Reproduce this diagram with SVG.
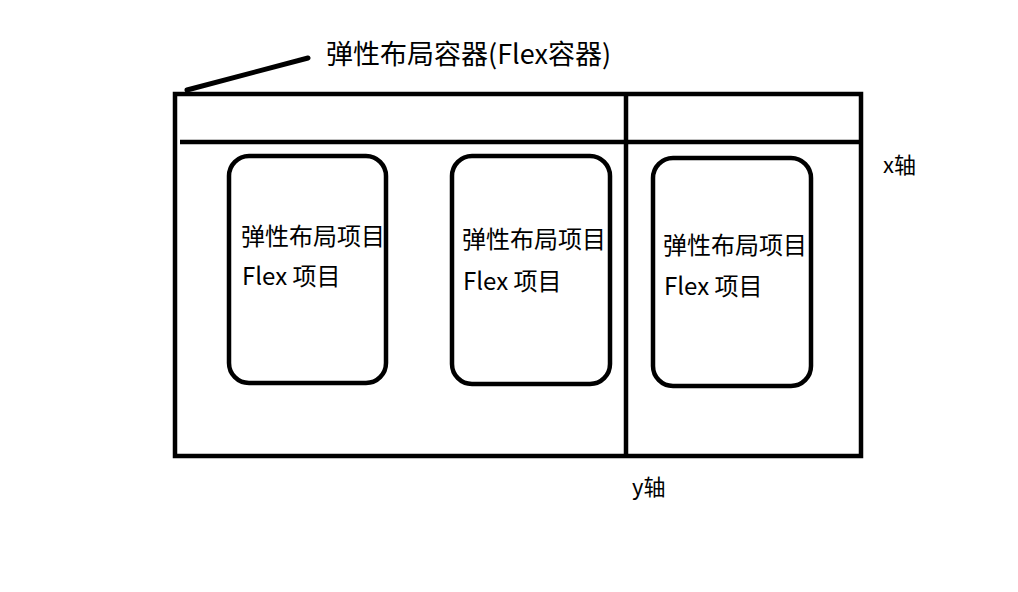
<svg xmlns="http://www.w3.org/2000/svg" width="1018" height="592" viewBox="0 0 1018 592">
<style>
.t{font-family:"Noto Sans CJK SC","Liberation Sans",sans-serif;fill:#000}
.item{fill:none;stroke:#000;stroke-width:4.5}
.ln{stroke:#000;stroke-width:4.5;fill:none}
</style>
<rect width="1018" height="592" fill="#fff"/>
<g id="container">
<rect x="175" y="94" width="686" height="362" class="ln"/>
<text class="t" x="326" y="64" font-size="27">弹性布局容器(Flex容器)</text>
</g>
<g id="connectors">
<line x1="180" y1="142" x2="859" y2="142" class="ln"/>
<line x1="626" y1="94" x2="626" y2="456" class="ln"/>
<line x1="187" y1="90" x2="308" y2="58" stroke="#000" stroke-width="5" stroke-linecap="round"/>
</g>
<g id="item1">
<rect x="229" y="156" width="157" height="227" rx="20" class="item"/>
<text class="t" x="241" y="245" font-size="24">弹性布局项目</text>
<text class="t" x="242" y="285" font-size="24">Flex 项目</text>
</g>
<g id="item2">
<rect x="452" y="156" width="158" height="228" rx="20" class="item"/>
<text class="t" x="462" y="248" font-size="24">弹性布局项目</text>
<text class="t" x="463" y="290" font-size="24">Flex 项目</text>
</g>
<g id="item3">
<rect x="653" y="158" width="158" height="228" rx="20" class="item"/>
<text class="t" x="663" y="254" font-size="24">弹性布局项目</text>
<text class="t" x="664" y="295" font-size="24">Flex 项目</text>
</g>
<g id="xaxis"><text class="t" x="883" y="173" font-size="22">x轴</text></g>
<g id="yaxis"><text class="t" x="632" y="495" font-size="22">y轴</text></g>
</svg>
